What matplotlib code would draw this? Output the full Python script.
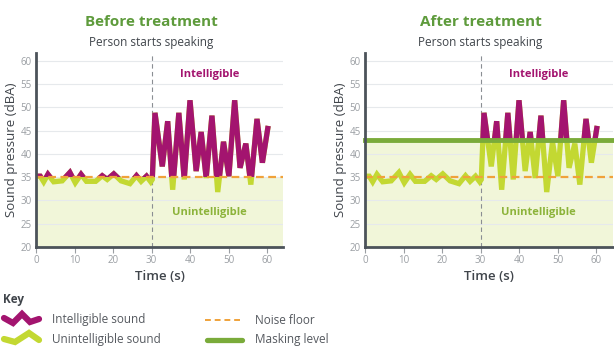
import matplotlib
matplotlib.use("Agg")
import matplotlib.pyplot as plt
from matplotlib.patches import Rectangle
import numpy as np

plt.rcParams['font.family'] = ['Open Sans', 'DejaVu Sans']

# ---- data ----
time_s = [0, 1.1, 2.0, 3.1, 4.6, 6.8, 8.8, 10.2, 11.7, 13.1, 15.5, 17.2, 18.5, 20.2,
          22.1, 24.4, 26.1, 27.3, 28.7, 29.8, 30.2,
          30.9, 32.8, 34.2, 35.5, 37.1, 38.5, 40.0, 41.6, 42.9, 44.2, 45.7, 47.2,
          48.7, 50.1, 51.6, 53.0, 54.5, 55.8, 57.4, 58.8, 60.3]
sound_dba = [35.2, 35.2, 34.0, 35.6, 34.0, 34.2, 36.0, 33.8, 35.6, 34.1, 34.1, 35.3, 34.5, 35.7,
             34.2, 33.6, 35.3, 34.1, 35.2, 34.0, 34.5,
             48.8, 37.3, 47.0, 32.3, 48.8, 34.5, 51.5, 36.3, 44.7, 34.8, 48.2, 31.8,
             42.6, 35.2, 51.5, 37.0, 42.2, 33.4, 47.5, 38.1, 46.0]
noise_floor = 35
masking_level = 43
speech_start = 30
panel_titles = ["Before treatment", "After treatment"]
thresholds = [noise_floor, masking_level]
x_ticks = [0, 10, 20, 30, 40, 50, 60]
y_ticks = [20, 25, 30, 35, 40, 45, 50, 55, 60]

# ---- style ----
MAGENTA = "#a3146f"
LIME = "#c3d832"
GREEN_TITLE = "#5e9b3c"
MASK_GREEN = "#7aab3a"
ORANGE = "#f0a23a"
FILL = "#f1f6d9"
SPINE = "#4c535a"
TICKC = "#9a9ea3"
TEXTC = "#40454b"
KEYTXT = "#55595f"
UNINT = "#8cb33a"

fig = plt.figure(figsize=(6.14, 3.6), dpi=100)
W, H = 614, 360

panels = [(36, 283), (365, 613)]
top_px, bot_px = 53, 247

for i, (x0, x1) in enumerate(panels):
    ax = fig.add_axes([x0 / W, 1 - bot_px / H, (x1 - x0) / W, (bot_px - top_px) / H])
    xmax = (x1 - x0) / 3.85
    ax.set_xlim(0, xmax)
    ax.set_ylim(20, 61.65)
    thr = thresholds[i]

    ax.fill_between([0, xmax], 20, thr, color=FILL, zorder=0, lw=0)
    for yv in y_ticks[1:]:
        ax.axhline(yv, color="#e6e9ec", lw=0.8, zorder=0.5)

    lime_line, = ax.plot(time_s, sound_dba, color=LIME, lw=3.8, zorder=2,
                         solid_joinstyle='miter', solid_capstyle='butt')
    mag_line, = ax.plot(time_s, sound_dba, color=MAGENTA, lw=3.8, zorder=3,
                        solid_joinstyle='miter', solid_capstyle='butt')
    clip = Rectangle((0, thr), xmax, 100, transform=ax.transData)
    mag_line.set_clip_path(clip)

    ax.axhline(noise_floor, color=ORANGE, lw=1.6, ls=(0, (3.5, 2)), zorder=4)
    if i == 1:
        ax.axhline(masking_level, color=MASK_GREEN, lw=3.5, zorder=5, clip_on=False)
    ax.axvline(speech_start, color="#8a8e93", lw=0.8, ls=(0, (4, 3)), zorder=1,
               ymax=1.0, clip_on=False)

    for s in ["top", "right"]:
        ax.spines[s].set_visible(False)
    for s in ["left", "bottom"]:
        ax.spines[s].set_color(SPINE)
        ax.spines[s].set_linewidth(2)
        ax.spines[s].set_zorder(6)
    ax.set_xticks(x_ticks)
    ax.set_yticks(y_ticks)
    ax.tick_params(axis='x', colors=TICKC, labelsize=7, length=4, width=0.8, pad=2)
    ax.tick_params(axis='y', colors=TICKC, labelsize=7, length=0, pad=3)
    for lbl in ax.get_xticklabels() + ax.get_yticklabels():
        lbl.set_color(TICKC)
    ax.set_xlabel("Time (s)", fontsize=9.5, fontweight='semibold', color=TEXTC, labelpad=3)
    ax.set_ylabel("Sound pressure (dBA)", fontsize=9.5, fontweight='medium',
                  color=TEXTC, labelpad=2)

    ax.text(speech_start, 68.4, panel_titles[i], ha='center', va='center',
            fontsize=11, fontweight='bold', color=GREEN_TITLE)
    ax.text(speech_start, 63.9, "Person starts speaking", ha='center', va='center',
            fontsize=8.5, color=TEXTC)
    ax.text(45, 57.0, "Intelligible", ha='center', va='center', fontsize=8,
            fontweight='bold', color=MAGENTA, zorder=7)
    ax.text(45, 27.3, "Unintelligible", ha='center', va='center', fontsize=8,
            fontweight='bold', color=UNINT, zorder=7)

# ---- key ----
kx = fig.add_axes([0, 0, 1, 1], zorder=-1)
kx.set_xlim(0, W)
kx.set_ylim(H, 0)
kx.axis('off')
kx.patch.set_alpha(0)
kx.text(3, 300, "Key", fontsize=8.5, fontweight='bold', color=TEXTC, va='center')
kx.plot([4, 13, 22, 30, 39], [318, 323, 314, 322, 319], color=MAGENTA, lw=4.5,
        solid_joinstyle='miter', solid_capstyle='round')
kx.plot([4, 15, 29, 39], [339, 342, 333, 340], color=LIME, lw=4.5,
        solid_joinstyle='miter', solid_capstyle='round')
kx.text(52, 320, "Intelligible sound", fontsize=8.5, color=KEYTXT, va='center')
kx.text(52, 340, "Unintelligible sound", fontsize=8.5, color=KEYTXT, va='center')
kx.plot([205, 240], [320, 320], color=ORANGE, lw=1.4, ls=(0, (3, 2)))
kx.plot([207, 242], [339.5, 339.5], color=MASK_GREEN, lw=3.8, solid_capstyle='round')
kx.text(255, 320, "Noise floor", fontsize=8.5, color=KEYTXT, va='center')
kx.text(255, 340, "Masking level", fontsize=8.5, color=KEYTXT, va='center')

fig.savefig("out.png", dpi=100)
